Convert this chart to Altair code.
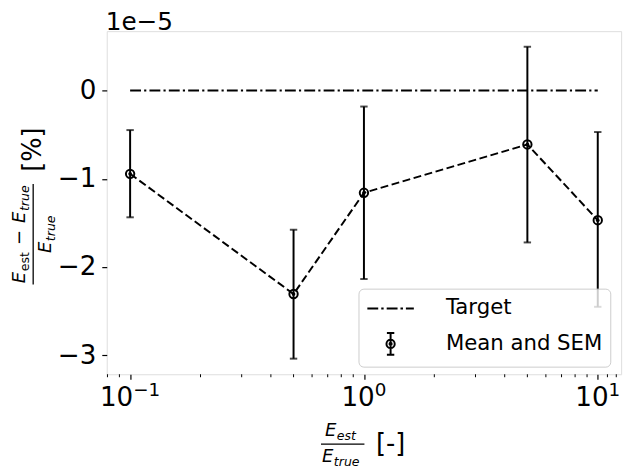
import math
import altair as alt
import pandas as pd

# ---- data (relative error, in units of 1e-5 %) ----
ratio = [0.1, 0.5, 1.0, 5.0, 10.0]
mean = [-0.944, -2.307, -1.159, -0.611, -1.470]
sem_lo = [-1.437, -3.040, -2.137, -1.722, -2.452]
sem_hi = [-0.448, -1.578, -0.181, 0.497, -0.470]
target_x = [0.1, 10.0]
target_y = [0.0, 0.0]
x_ticks = [0.1, 1.0, 10.0]
x_tick_base = "10"
x_tick_exp = ["−1", "0", "1"]
x_minor = [0.08, 0.09, 0.2, 0.3, 0.4, 0.5, 0.6, 0.7, 0.8, 0.9,
           2, 3, 4, 5, 6, 7, 8, 9, 11, 12]
y_ticks = [0, -1, -2, -3]
y_tick_labels = ["0", "−1", "−2", "−3"]
legend_labels = ["Target", "Mean and SEM"]
offset_text = "1e−5"

FONT = "DejaVu Sans"
TOP = 28.5
LEFT = 108
W, H = 521, 376 - TOP
TICK_FS = 26.5
SUP_FS = TICK_FS * 0.7

df = pd.DataFrame({"x": ratio, "y": mean, "lo": sem_lo, "hi": sem_hi})
df_target = pd.DataFrame({"x": target_x, "y": target_y})
df_minor = pd.DataFrame({"x": x_minor})
df_leg = pd.DataFrame({"series": legend_labels})

# matplotlib-like 5% margins
lx0, lx1 = math.log10(min(ratio)), math.log10(max(ratio))
mx = (lx1 - lx0) * 0.05
xdom = [10 ** (lx0 - mx), 10 ** (lx1 + mx)]
ylo, yhi = min(sem_lo), max(sem_hi)
my = (yhi - ylo) * 0.05
ydom = [ylo - my, yhi + my]


def ternary(vals, labels):
    expr = "''"
    for v, l in reversed(list(zip(vals, labels))):
        expr = f"abs(datum.value - ({v})) < 1e-9 ? '{l}' : ({expr})"
    return expr


xs = alt.Scale(type="log", domain=xdom, nice=False)
ys = alt.Scale(domain=ydom, nice=False, zero=False)
axis_common = dict(title=None, domain=False, grid=False, tickSize=5, tickWidth=1.2,
                   tickColor="black", labelFontSize=TICK_FS, labelFont=FONT,
                   labelColor="black", labelOverlap=False, labelFlush=False)
xaxis = alt.Axis(values=x_ticks, labels=False, **axis_common)
yaxis = alt.Axis(values=y_ticks, labelExpr=ternary(y_ticks, y_tick_labels),
                 labelPadding=6, **axis_common)


def X(f):
    return alt.X(f, type="quantitative", scale=xs, axis=xaxis)


def Y(f):
    return alt.Y(f, type="quantitative", scale=ys, axis=yaxis)


target = alt.Chart(df_target).mark_line(
    color="black", strokeWidth=2, strokeDash=[11, 3.2, 2.2, 3.2]
).encode(x=X("x"), y=Y("y"))

mean_line = alt.Chart(df).mark_line(
    color="black", strokeWidth=2, strokeDash=[8, 3.6]
).encode(x=X("x"), y=Y("y"))

err = alt.Chart(df).mark_rule(color="black", strokeWidth=2).encode(
    x=X("x"), y=Y("lo"), y2=alt.Y2("hi"))
cap_lo = alt.Chart(df).mark_tick(orient="horizontal", size=7.5, thickness=2,
                                 color="black").encode(x=X("x"), y=Y("lo"))
cap_hi = alt.Chart(df).mark_tick(orient="horizontal", size=7.5, thickness=2,
                                 color="black").encode(x=X("x"), y=Y("hi"))
rings = alt.Chart(df).mark_point(shape="circle", size=72, filled=False,
                                 strokeWidth=2, color="black", opacity=1
                                 ).encode(x=X("x"), y=Y("y"))
dots = alt.Chart(df).mark_point(shape="circle", size=14, filled=True,
                                color="black", opacity=1
                                ).encode(x=X("x"), y=Y("y"))

minor = alt.Chart(df_minor).mark_rule(color="black", strokeWidth=1).encode(
    x=X("x"), y=alt.value(H), y2=alt.value(H + 3))

# x tick labels "10^k" (mathtext-like: exponent at 0.7 size, raised)
ADV = {"1": 0.636, "0": 0.636, "−": 0.838}
base_w = sum(ADV[c] for c in x_tick_base) * TICK_FS
tick_layers = []
for v, e in zip(x_ticks, x_tick_exp):
    exp_w = sum(ADV[c] for c in e) * SUP_FS
    start = -(base_w + exp_w) / 2
    d = pd.DataFrame({"x": [v], "b": [x_tick_base], "e": [e]})
    tick_layers.append(alt.Chart(d).mark_text(
        align="left", baseline="alphabetic", dx=start, fontSize=TICK_FS,
        font=FONT, color="black").encode(x=X("x"), y=alt.value(H + 32), text="b:N"))
    tick_layers.append(alt.Chart(d).mark_text(
        align="left", baseline="alphabetic", dx=start + base_w, fontSize=SUP_FS,
        font=FONT, color="black").encode(x=X("x"), y=alt.value(H + 22), text="e:N"))

# legend (custom symbol paths, unit = 11px)
LEG_W = 255
path_target = ("M-2.14,0H-1.14M-0.86,0H-0.64M-0.36,0H0.64"
               "M0.91,0H1.14M1.41,0H2.14")
path_sem = ("M0,-1V1M-0.34,-1H0.34M-0.34,1H0.34"
            "M0.38,0A0.38,0.38 0 1,0 -0.38,0A0.38,0.38 0 1,0 0.38,0"
            "M0.1,0A0.1,0.1 0 1,0 -0.1,0A0.1,0.1 0 1,0 0.1,0")
leg = alt.Chart(df_leg).mark_point(filled=False, opacity=0, color="black",
                                   strokeWidth=2).encode(
    shape=alt.Shape("series:N",
                    scale=alt.Scale(domain=legend_labels,
                                    range=[path_target, path_sem]),
                    legend=alt.Legend(
                        title=None, orient="none", legendX=W - 11 - LEG_W,
                        legendY=289.3 - TOP,
                        direction="vertical", symbolSize=484,
                        symbolStrokeWidth=2, symbolStrokeColor="black",
                        symbolFillColor="transparent", symbolOpacity=1,
                        symbolOffset=12.5, labelOffset=44, rowPadding=10,
                        padding=8, labelFont=FONT, labelFontSize=21.5,
                        labelLimit=0, labelColor="black",
                        fillColor="rgba(255,255,255,0.8)",
                        strokeColor="#cccccc", cornerRadius=5)))


def txt(s, x, y, size, angle=0, italic=False):
    # x, y in image pixels (converted to plot-area coordinates)
    return alt.Chart(alt.Data(values=[{"t": s}])).mark_text(
        align="left", baseline="alphabetic", angle=angle, fontSize=size,
        font=FONT, fontStyle="italic" if italic else "normal", color="black"
    ).encode(x=alt.value(x - LEFT), y=alt.value(y - TOP), text="t:N")


def bar(x1, x2, y1, y2):
    return alt.Chart(alt.Data(values=[{"t": 0}])).mark_rule(
        color="black", strokeWidth=1.3).encode(
        x=alt.value(x1 - LEFT), x2=alt.value(x2 - LEFT),
        y=alt.value(y1 - TOP), y2=alt.value(y2 - TOP))


F1, F2 = 18.2, 12.7
XS = -3   # x title follows the plot centre
annot = [
    txt(offset_text, 107, 27, 25),
    # x title: E_est / E_true [-]
    txt("E", 332 + XS, 438.3, F1, italic=True),
    txt("est", 344 + XS, 443, F2, italic=True),
    bar(328 + XS, 372 + XS, 446.7, 446.7),
    txt("E", 329 + XS, 465, F1, italic=True),
    txt("true", 341 + XS, 468.5, F2, italic=True),
    txt("[-]", 383.6 + XS, 455, 26),
    # y title: (E_est - E_true) / E_true [%]
    txt("E", 25, 283.7, F1, angle=270, italic=True),
    txt("est", 29.7, 271.7, F2, angle=270),
    txt("−", 25, 245.2, F1, angle=270),
    txt("E", 25, 222.9, F1, angle=270, italic=True),
    txt("true", 29.7, 210.7, F2, angle=270, italic=True),
    bar(33.5, 33.5, 183.3, 285),
    txt("E", 51.8, 253.2, F1, angle=270, italic=True),
    txt("true", 55.3, 241.2, F2, angle=270, italic=True),
    txt("[%]", 41.3, 171, 26, angle=270),
]

chart = alt.layer(target, mean_line, err, cap_lo, cap_hi, rings, dots, minor,
                  *tick_layers, leg, *annot).properties(
    width=W, height=H,
    padding={"left": LEFT - 8, "top": TOP - 8, "right": 640 - 8 - (LEFT - 8) - W,
             "bottom": 469 - 376},
    autosize=alt.AutoSizeParams(type="none"),
).configure_view(stroke="black", strokeWidth=1.2
).configure(font=FONT)

chart.save("out.html", embed_options={"renderer": "svg", "actions": False})
